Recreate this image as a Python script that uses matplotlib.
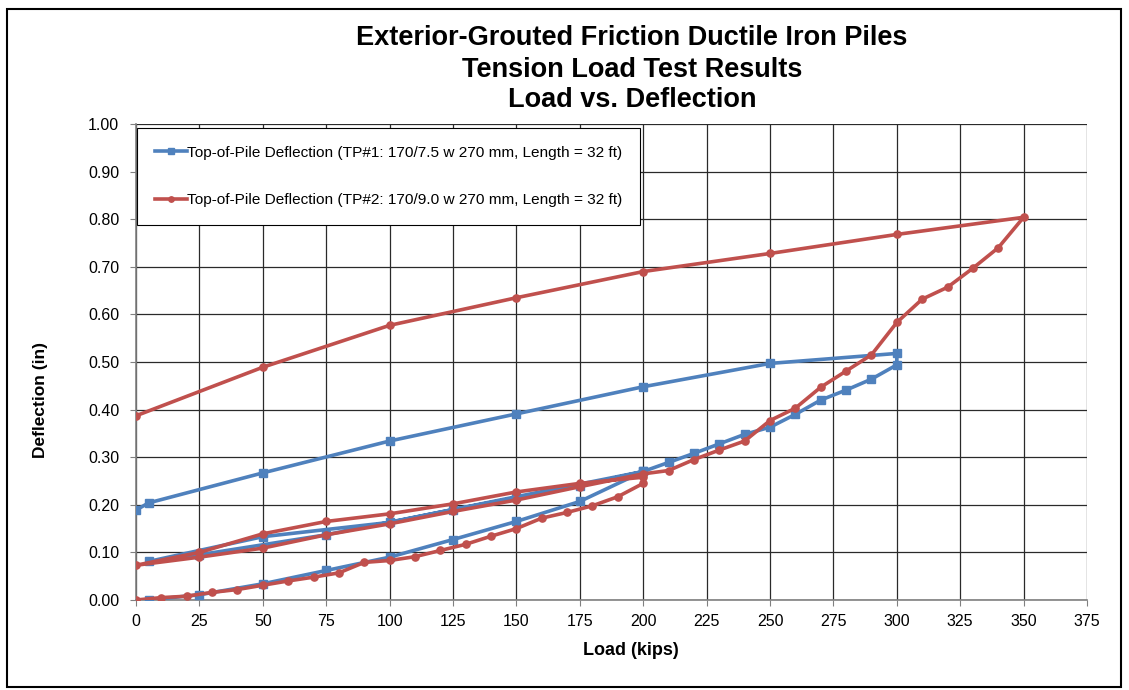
import numpy as np
import matplotlib
matplotlib.use('Agg')
import matplotlib.pyplot as plt
from matplotlib.patches import Rectangle

plt.rcParams['font.family'] = ['Liberation Sans', 'DejaVu Sans']

# TP#1 - blue squares
tp1_load = [5, 25, 50, 75, 100, 125, 150, 175, 200,
            150, 100, 50, 5,
            25, 75, 125, 175, 200,
            210, 220, 230, 240, 250, 260, 270, 280, 290, 300, 300,
            250, 200, 150, 100, 50, 5, 0]
tp1_defl = [0.000, 0.011, 0.034, 0.062, 0.090, 0.127, 0.165, 0.207, 0.270,
            0.217, 0.163, 0.133, 0.081,
            0.095, 0.137, 0.190, 0.240, 0.270,
            0.289, 0.308, 0.328, 0.348, 0.363, 0.390, 0.420, 0.441, 0.464, 0.494, 0.518,
            0.497, 0.448, 0.391, 0.334, 0.267, 0.204, 0.189]

# TP#2 - red circles
tp2_load = [0, 10, 20, 30, 40, 50, 60, 70, 80, 90, 100, 110, 120, 130, 140, 150,
            160, 170, 180, 190, 200,
            200, 175, 150, 125, 100, 75, 50, 25, 0,
            25, 50, 75, 100, 125, 150, 175, 200,
            210, 220, 230, 240, 250, 260, 270, 280, 290, 300, 310, 320, 330, 340, 350,
            300, 250, 200, 150, 100, 50, 0]
tp2_defl = [0.000, 0.005, 0.008, 0.016, 0.022, 0.031, 0.040, 0.048, 0.057, 0.079, 0.083,
            0.091, 0.104, 0.117, 0.134, 0.150, 0.172, 0.184, 0.198, 0.217, 0.245,
            0.258, 0.245, 0.227, 0.202, 0.181, 0.165, 0.139, 0.100, 0.073,
            0.090, 0.109, 0.137, 0.160, 0.186, 0.210, 0.238, 0.265,
            0.272, 0.295, 0.315, 0.334, 0.377, 0.403, 0.447, 0.481, 0.515, 0.583,
            0.632, 0.657, 0.697, 0.740, 0.804,
            0.768, 0.728, 0.690, 0.635, 0.577, 0.489, 0.387]

label1 = 'Top-of-Pile Deflection (TP#1: 170/7.5 w 270 mm, Length = 32 ft)'
label2 = 'Top-of-Pile Deflection (TP#2: 170/9.0 w 270 mm, Length = 32 ft)'

blue = '#4F81BD'
red = '#C0504D'

fig = plt.figure(figsize=(11.29, 6.9), dpi=100)
ax = fig.add_axes([136/1129, 1-600/690, (1087-136)/1129, (600-124)/690])

ax.plot(tp1_load, tp1_defl, color=blue, lw=2.6, marker='s', ms=5.8, label=label1, zorder=3)
ax.plot(tp2_load, tp2_defl, color=red, lw=2.6, marker='o', ms=5.2, label=label2, zorder=3)

ax.set_xlim(0, 375)
ax.set_ylim(0, 1.0)
ax.set_xticks(np.arange(0, 376, 25))
ax.set_yticks(np.arange(0, 1.01, 0.1))
ax.set_yticklabels(['%.2f' % v for v in np.arange(0, 1.01, 0.1)])
ax.tick_params(labelsize=11.5, length=4, width=0.8, color='#808080')
ax.tick_params(axis='y', pad=8)
ax.tick_params(axis='x', pad=6)
ax.grid(True, color='#2a2a2a', lw=0.9)
ax.set_axisbelow(True)
for s in ['top', 'right']:
    ax.spines[s].set_visible(False)
for s in ['left', 'bottom']:
    ax.spines[s].set_color('#808080')
    ax.spines[s].set_linewidth(1.2)

ax.set_xlabel('Load (kips)', fontsize=13, fontweight='bold')
ax.set_ylabel('Deflection (in)', fontsize=12.5, fontweight='bold')
ax.xaxis.set_label_coords((631-136)/951, (600-642)/476)
ax.yaxis.set_label_coords((48-136)/951, (600-400)/476)

leg = ax.legend(loc='upper left', bbox_to_anchor=(0.001, 0.992), fontsize=11.1,
                handlelength=2.1, handletextpad=0.0, labelspacing=2.2,
                borderpad=1.15, borderaxespad=0, fancybox=False, framealpha=1,
                edgecolor='black', markerscale=0.75)
leg.get_frame().set_linewidth(0.8)

fig.text(632/1129, 1-38/690, 'Exterior-Grouted Friction Ductile Iron Piles',
         ha='center', va='center', fontsize=19.5, fontweight='bold')
fig.text(632/1129, 1-70/690, 'Tension Load Test Results',
         ha='center', va='center', fontsize=19.5, fontweight='bold')
fig.text(632/1129, 1-100/690, 'Load vs. Deflection',
         ha='center', va='center', fontsize=19.5, fontweight='bold')

fig.patches.append(Rectangle((7/1129, 1-687/690), 1114/1129, 678/690,
                             transform=fig.transFigure, fill=False,
                             edgecolor='black', lw=1.5))

fig.savefig('out.png', dpi=100)
